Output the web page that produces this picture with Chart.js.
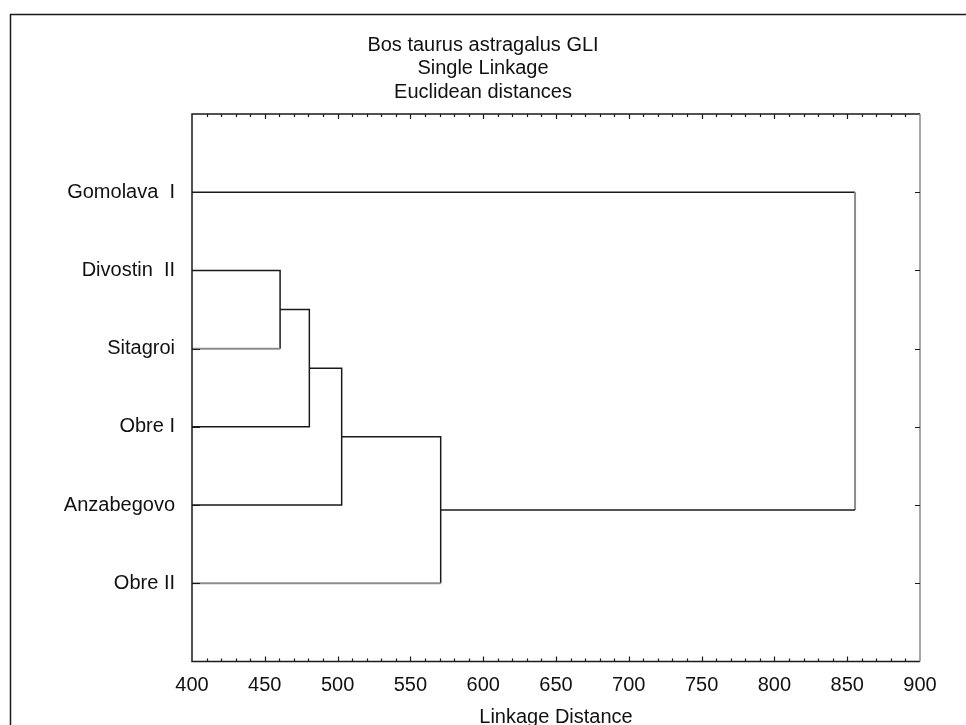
<!DOCTYPE html>
<html>
<head>
<meta charset="utf-8">
<script src="https://cdn.jsdelivr.net/npm/chart.js@4"></script>
<style>
  html, body { margin: 0; padding: 0; background: #fff; }
  #wrap { width: 966px; height: 725px; position: relative; }
</style>
</head>
<body>
<div id="wrap"><canvas id="c" width="966" height="725"></canvas></div>
<script>
// ---- data ----
const titleLines = ["Bos taurus astragalus GLI", "Single Linkage", "Euclidean distances"];
const leafLabels = ["Gomolava  I", "Divostin  II", "Sitagroi", "Obre I", "Anzabegovo", "Obre II"];
// merges: node ids 0..5 are leaves, 6.. are clusters created by merge k (id = 6 + k)
const mergeLeft = [1, 6, 7, 8, 0];
const mergeRight = [2, 3, 4, 5, 9];
const linkageDistance = [460.5, 480.6, 502.8, 570.8, 855.4];
const xTickValues = [400, 450, 500, 550, 600, 650, 700, 750, 800, 850, 900];
const xAxisTitle = "Linkage Distance";

// ---- styling (not data) ----
const FONT = "'Liberation Sans', Arial, sans-serif";
const INK = "#1a1a1a";
const FADED = "#8c8c8c";
// segment index within each merge's U-shaped line that looks faded in the original
const fadedSegments = { 0: [2], 3: [2], 4: [1] };

const xMin = xTickValues[0], xMax = xTickValues[xTickValues.length - 1];
const nLeaves = leafLabels.length;

// node positions in data space
const nodes = [];
for (let i = 0; i < nLeaves; i++) nodes.push({ x: xMin, y: i + 1 });
linkageDistance.forEach((h, k) => {
  const L = nodes[mergeLeft[k]], R = nodes[mergeRight[k]];
  nodes.push({ x: h, y: (L.y + R.y) / 2 });
});

const datasets = linkageDistance.map((h, k) => {
  const L = nodes[mergeLeft[k]], R = nodes[mergeRight[k]];
  const faded = fadedSegments[k] || [];
  return {
    data: [{ x: L.x, y: L.y }, { x: h, y: L.y }, { x: h, y: R.y }, { x: R.x, y: R.y }],
    showLine: true,
    pointRadius: 0,
    borderWidth: 1.5,
    borderColor: INK,
    segment: {
      borderColor: ctx => faded.includes(ctx.p0DataIndex) ? FADED : INK,
      borderWidth: ctx => faded.includes(ctx.p0DataIndex) ? 2 : 1.5
    },
    tension: 0
  };
});

const decorPlugin = {
  id: 'decor',
  afterDraw(chart) {
    const ctx = chart.ctx;
    const a = chart.chartArea;
    const xs = chart.scales.x, ys = chart.scales.y;
    ctx.save();
    // outer frame
    ctx.strokeStyle = INK;
    ctx.lineWidth = 1.5;
    ctx.strokeRect(10.5, 14.5, 2000, 2000);
    // title
    ctx.fillStyle = "#111";
    ctx.font = "20px " + FONT;
    ctx.textAlign = "center";
    ctx.textBaseline = "middle";
    titleLines.forEach((t, i) => ctx.fillText(t, 483, 45 + i * 23.5));
    // plot frame
    ctx.lineWidth = 1.5;
    ctx.strokeStyle = INK;
    ctx.beginPath();
    ctx.moveTo(a.right, a.top); ctx.lineTo(a.left, a.top);
    ctx.lineTo(a.left, a.bottom); ctx.lineTo(a.right, a.bottom);
    ctx.stroke();
    ctx.strokeStyle = "#8a8a8a";
    ctx.beginPath();
    ctx.moveTo(a.right, a.top); ctx.lineTo(a.right, a.bottom);
    ctx.stroke();
    // x ticks (inward, top and bottom)
    ctx.strokeStyle = INK;
    ctx.lineWidth = 1.2;
    ctx.beginPath();
    for (let v = xMin + 10; v < xMax; v += 10) {
      const px = Math.round(xs.getPixelForValue(v)) + 0.5;
      const major = (v - xMin) % 50 === 0;
      const len = major ? 5 : 3;
      ctx.moveTo(px, a.bottom); ctx.lineTo(px, a.bottom - len);
      ctx.moveTo(px, a.top); ctx.lineTo(px, a.top + len);
    }
    // y ticks (inward, left and right)
    for (let i = 1; i <= nLeaves; i++) {
      const py = Math.round(ys.getPixelForValue(i)) + 0.5;
      ctx.moveTo(a.left, py); ctx.lineTo(a.left + 8, py);
      ctx.moveTo(a.right, py); ctx.lineTo(a.right - 5, py);
    }
    ctx.stroke();
    ctx.restore();
  }
};

new Chart(document.getElementById('c'), {
  type: 'scatter',
  data: { datasets },
  options: {
    responsive: false,
    animation: false,
    layout: { padding: { left: 0, right: 46, top: 114, bottom: 0 } },
    plugins: { legend: { display: false }, tooltip: { enabled: false }, title: { display: false } },
    scales: {
      x: {
        type: 'linear',
        position: 'bottom',
        min: xMin,
        max: xMax,
        afterBuildTicks: s => { s.ticks = xTickValues.map(v => ({ value: v })); },
        grid: { display: false, drawTicks: false },
        border: { display: false },
        ticks: { color: "#111", font: { family: FONT, size: 20 }, padding: 12, maxRotation: 0, autoSkip: false },
        title: { display: true, text: xAxisTitle, color: "#111", font: { family: FONT, size: 20, lineHeight: 1 }, padding: { top: 0, bottom: -2 } },
        afterFit: s => { s.height = 63.5; }
      },
      y: {
        type: 'linear',
        position: 'left',
        min: 0,
        max: nLeaves + 1,
        reverse: true,
        afterBuildTicks: s => { s.ticks = leafLabels.map((_, i) => ({ value: i + 1 })); },
        grid: { display: false, drawTicks: false },
        border: { display: false },
        ticks: {
          color: "#111",
          font: { family: FONT, size: 20 },
          padding: 17,
          autoSkip: false,
          callback: v => leafLabels[v - 1] ?? ''
        },
        afterFit: s => { s.width = 192; }
      }
    }
  },
  plugins: [decorPlugin]
});
</script>
</body>
</html>
